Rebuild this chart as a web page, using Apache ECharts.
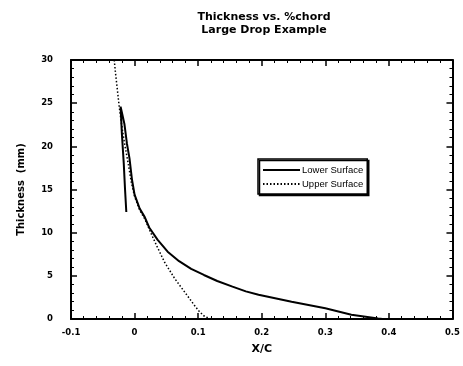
<!DOCTYPE html>
<html>
<head>
<meta charset="utf-8">
<script src="https://cdn.jsdelivr.net/npm/echarts@6/dist/echarts.min.js"></script>
<style>
  html, body { margin: 0; padding: 0; background: #fff; }
  #chart { width: 463px; height: 366px; }
</style>
</head>
<body>
<div id="chart"></div>
<script>
// data
var lowerSurface = [
  [-0.013, 12.4], [-0.015, 15.0], [-0.017, 18.0], [-0.020, 21.5], [-0.022, 24.6],
  [-0.019, 23.6], [-0.016, 22.6], [-0.012, 20.3], [-0.008, 18.6], [-0.004, 16.1],
  [0.000, 14.4], [0.008, 12.8], [0.016, 11.8], [0.023, 10.6], [0.036, 9.2],
  [0.052, 7.8], [0.070, 6.7], [0.089, 5.8], [0.109, 5.1], [0.130, 4.4],
  [0.154, 3.75], [0.175, 3.2], [0.195, 2.8], [0.247, 2.0], [0.300, 1.24],
  [0.341, 0.5], [0.383, 0.05], [0.390, 0]
];
var upperSurface = [
  [-0.032, 30], [-0.030, 28.5], [-0.027, 26.5], [-0.024, 24.5], [-0.020, 22.3],
  [-0.015, 20.0], [-0.010, 18.0], [-0.005, 15.8], [0.000, 14.2], [0.008, 12.6],
  [0.016, 11.6], [0.023, 10.4], [0.034, 8.6], [0.047, 6.6], [0.063, 4.7],
  [0.078, 3.2], [0.094, 1.6], [0.102, 0.85], [0.110, 0.3], [0.120, 0]
];
var seriesNames = ['Lower Surface', 'Upper Surface'];

var font = 'DejaVu Sans, Verdana, sans-serif';
var legendFont = 'Liberation Sans, Arial, sans-serif';
var myChart = echarts.init(document.getElementById('chart'));

function boxAxis(pos, isX, showLabel) {
  return {
    type: 'value',
    position: pos,
    min: isX ? -0.1 : 0,
    max: isX ? 0.5 : 30,
    interval: isX ? 0.1 : 5,
    axisLine: { show: true, onZero: false, lineStyle: { color: '#000', width: 2 } },
    axisTick: { show: true, inside: true, length: 6, lineStyle: { color: '#000', width: 1.5 } },
    minorTick: { show: true, splitNumber: 5, length: 3, lineStyle: { color: '#000', width: 1 } },
    splitLine: { show: false },
    axisLabel: {
      show: showLabel,
      color: '#000',
      fontFamily: font,
      fontWeight: 'bold',
      fontSize: 8.5,
      margin: isX ? 9 : 18
    }
  };
}

var xBottom = boxAxis('bottom', true, true);
xBottom.name = 'X/C';
xBottom.nameLocation = 'middle';
xBottom.nameGap = 25;
xBottom.nameTextStyle = { color: '#000', fontFamily: font, fontWeight: 'bold', fontSize: 11 };
var xTop = boxAxis('top', true, false);

var yLeft = boxAxis('left', false, true);
yLeft.name = 'Thickness  (mm)';
yLeft.nameLocation = 'middle';
yLeft.nameGap = 45;
yLeft.nameTextStyle = { color: '#000', fontFamily: font, fontWeight: 'bold', fontSize: 10 };
var yRight = boxAxis('right', false, false);

var option = {
  backgroundColor: '#fff',
  animation: false,
  title: {
    text: 'Thickness vs. %chord\nLarge Drop Example',
    left: 259,
    textAlign: 'center',
    top: 6,
    textStyle: { color: '#000', fontFamily: font, fontWeight: 'bold', fontSize: 11, lineHeight: 13 }
  },
  grid: { left: 71, top: 60, right: 8, bottom: 47 },
  legend: {
    orient: 'vertical',
    left: 258,
    top: 159,
    padding: [6, 4, 5, 4],
    itemWidth: 37,
    itemHeight: 8,
    itemGap: 4,
    borderColor: '#000',
    borderWidth: 1.5,
    backgroundColor: '#fff',
    shadowColor: '#000',
    shadowOffsetX: 1.5,
    shadowOffsetY: 1.5,
    shadowBlur: 0,
    itemStyle: { opacity: 0 },
    textStyle: { color: '#000', fontFamily: legendFont, fontSize: 9.5, padding: [0, 0, 0, -3] },
    data: seriesNames
  },
  xAxis: [xBottom, xTop],
  yAxis: [yLeft, yRight],
  series: [
    {
      name: seriesNames[0],
      type: 'line',
      showSymbol: false,
      symbol: 'none',
      lineStyle: { color: '#000', width: 2 },
      itemStyle: { color: '#000' },
      data: lowerSurface
    },
    {
      name: seriesNames[1],
      type: 'line',
      showSymbol: false,
      symbol: 'none',
      lineStyle: { color: '#000', width: 1.5, type: [1.5, 2] },
      itemStyle: { color: '#000' },
      data: upperSurface
    }
  ]
};
myChart.clear();
myChart.setOption(option);
</script>
</body>
</html>
